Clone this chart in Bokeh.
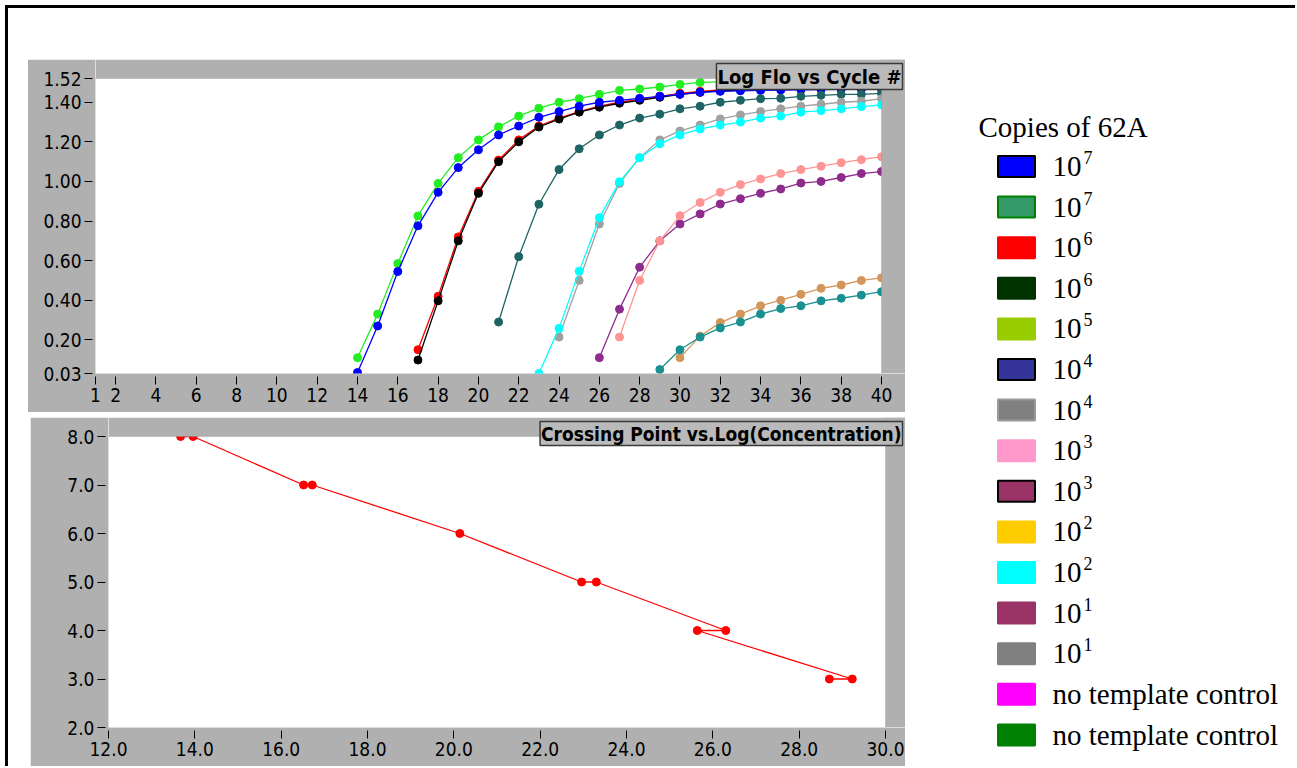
from bokeh.plotting import figure
from bokeh.models import FixedTicker, PrintfTickFormatter, Label, Range1d, BoxAnnotation
from bokeh.layouts import row, column
from bokeh.core.properties import value
from bokeh.embed import file_html
from bokeh.resources import INLINE

# ---------------- data: Log Flo vs Cycle # ----------------
green_start = 14
green_vals = [0.11, 0.33, 0.585, 0.826, 0.99, 1.12, 1.21, 1.276, 1.33, 1.37, 1.40, 1.418, 1.44, 1.46,
              1.467, 1.477, 1.49, 1.50, 1.503, 1.506, 1.508, 1.51, 1.512, 1.514, 1.515, 1.516, 1.517]
blue_start = 14
blue_vals = [0.035, 0.27, 0.545, 0.776, 0.945, 1.07, 1.16, 1.235, 1.28, 1.324, 1.353, 1.38, 1.40, 1.41,
             1.42, 1.43, 1.44, 1.45, 1.455, 1.458, 1.46, 1.462, 1.463, 1.464, 1.465, 1.466, 1.467]
red_start = 17
red_vals = [0.15, 0.42, 0.72, 0.95, 1.108, 1.21, 1.28, 1.32, 1.353, 1.38, 1.40, 1.415, 1.43, 1.445,
            1.455, 1.462, 1.465, 1.467, 1.468, 1.469, 1.47, 1.47, 1.471, 1.472]
black_start = 17
black_vals = [0.098, 0.397, 0.70, 0.94, 1.10, 1.20, 1.275, 1.315, 1.35, 1.375, 1.395, 1.41, 1.425, 1.44,
              1.45, 1.458, 1.462, 1.464, 1.465, 1.466, 1.467, 1.468, 1.469, 1.47]
darkteal_start = 21
darkteal_vals = [0.29, 0.62, 0.885, 1.06, 1.165, 1.235, 1.285, 1.32, 1.34, 1.367, 1.38, 1.40, 1.41,
                 1.418, 1.42, 1.43, 1.435, 1.44, 1.44, 1.445]
cyan_start = 23
cyan_vals = [0.03, 0.258, 0.547, 0.817, 0.998, 1.12, 1.19, 1.235, 1.265, 1.285, 1.30, 1.32, 1.33, 1.35,
             1.358, 1.367, 1.378, 1.387]
gray_start = 24
gray_vals = [0.214, 0.50, 0.785, 0.99, 1.12, 1.21, 1.255, 1.285, 1.316, 1.336, 1.353, 1.367, 1.38, 1.39,
             1.40, 1.405, 1.418]
salmon_start = 27
salmon_vals = [0.214, 0.50, 0.70, 0.827, 0.894, 0.945, 0.984, 1.013, 1.04, 1.06, 1.077, 1.095, 1.11, 1.125]
purple_start = 26
purple_vals = [0.11, 0.355, 0.567, 0.70, 0.785, 0.836, 0.886, 0.913, 0.94, 0.962, 0.992, 1.0, 1.02, 1.04, 1.05]
tan_start = 30
tan_vals = [0.11, 0.219, 0.287, 0.33, 0.372, 0.40, 0.43, 0.46, 0.477, 0.50, 0.513]
teal_start = 29
teal_vals = [0.05, 0.15, 0.214, 0.26, 0.29, 0.33, 0.358, 0.372, 0.397, 0.41, 0.426, 0.443]

top_x_ticks = [1, 2, 4, 6, 8, 10, 12, 14, 16, 18, 20, 22, 24, 26, 28, 30, 32, 34, 36, 38, 40]
top_y_ticks = [0.03, 0.20, 0.40, 0.60, 0.80, 1.00, 1.20, 1.40, 1.52]
top_title = "Log Flo vs Cycle #"

# ---------------- data: Crossing Point vs Log(Concentration) ----------------
crossing_point = [13.67, 13.96, 16.52, 16.72, 20.14, 22.96, 23.30, 26.30, 25.64, 29.23, 28.70]
log_conc = [8, 8, 7, 7, 6, 5, 5, 4, 4, 3, 3]
bot_x_ticks = [12, 14, 16, 18, 20, 22, 24, 26, 28, 30]
bot_y_ticks = [2, 3, 4, 5, 6, 7, 8]
bot_title = "Crossing Point vs.Log(Concentration)"

# ---------------- legend ----------------
legend_title = "Copies of 62A"
legend_base = ["10"] * 13 + ["no template control", "no template control"]
legend_exp = ["7", "7", "6", "6", "5", "4", "4", "3", "3", "2", "2", "1", "1", "", ""]

# ---------------- styles ----------------
legend_fill = ["#0000ff", "#339966", "#ff0000", "#003300", "#99cc00", "#333399", "#808080",
               "#ff99cc", "#993366", "#ffcc00", "#00ffff", "#993366", "#808080", "#ff00ff", "#008000"]
legend_line = ["#000000", "#008000", "#ff0000", "#003300", "#99cc00", "#000000", "#9a9a9a",
               "#ff99cc", "#000000", "#ffcc00", "#00ffff", "#993366", "#808080", "#ff00ff", "#008000"]

PANEL = "#b0b0b0"
TICK_FONT = "DejaVu Sans Condensed"
SERIF = "Liberation Serif"

series = [
    (red_start, red_vals, "#ff0000"),
    (black_start, black_vals, "#000000"),
    (green_start, green_vals, "#22ee22"),
    (blue_start, blue_vals, "#0000ff"),
    (darkteal_start, darkteal_vals, "#1f6464"),
    (gray_start, gray_vals, "#a0a0a0"),
    (cyan_start, cyan_vals, "#00ffff"),
    (purple_start, purple_vals, "#8e2c8e"),
    (salmon_start, salmon_vals, "#ff9494"),
    (tan_start, tan_vals, "#d4955a"),
    (teal_start, teal_vals, "#1a9090"),
]


def style_axes(p):
    for ax in p.axis:
        ax.axis_line_color = None
        ax.major_tick_line_color = "black"
        ax.major_tick_line_width = 1
        ax.minor_tick_line_color = None
        ax.major_label_text_font = TICK_FONT
        ax.major_label_text_font_size = "19px"
        ax.major_label_text_color = "black"
        ax.major_tick_out = 11
        ax.major_tick_in = -3
        ax.major_label_standoff = 3
    p.grid.visible = False


def panel_figure(width, height, xr, yr, bl, br, bt, bb, margin, styles=None):
    """Frame covers the right and top gray strips so the title box can overlap them."""
    fw = width - bl
    fh = height - bb
    data_w = fw - br
    data_h = fh - bt
    x_end = xr[1] + br * (xr[1] - xr[0]) / data_w
    y_end = yr[1] + bt * (yr[1] - yr[0]) / data_h
    p = figure(width=width, height=height, x_range=Range1d(xr[0], x_end), y_range=Range1d(yr[0], y_end),
               output_backend="svg", toolbar_location=None,
               min_border_left=bl, min_border_right=0, min_border_top=0, min_border_bottom=bb,
               border_fill_color=PANEL, background_fill_color="white",
               outline_line_color=None, margin=margin, styles=styles or {})
    return p


def add_strips(p, xr, yr, title, size):
    p.add_layout(BoxAnnotation(left=xr[1], fill_color=PANEL, fill_alpha=1, line_color=None))
    p.add_layout(BoxAnnotation(bottom=yr[1], fill_color=PANEL, fill_alpha=1, line_color=None))
    p.add_layout(BoxAnnotation(left=xr[0], right=xr[1], bottom=yr[0], top=yr[1], fill_color=None,
                               fill_alpha=0, line_color="#8a8a8a", line_width=1))
    p.add_layout(Label(x=p.x_range.end, y=p.y_range.end, x_units="data", y_units="data", text=title,
                       text_align="right", text_baseline="top", x_offset=-3, y_offset=-4,
                       text_font=TICK_FONT, text_font_style="bold", text_font_size=size,
                       text_color="black",
                       background_fill_color="#bababa", border_line_color="#3a3a3a",
                       border_line_width=1.5, padding=1))


# Both plots in the column share the same left border width (Bokeh aligns them),
# so the top panel is shifted left and its surplus gray edge is clipped away.
LEFT_BORDER = 78
TOP_EXTRA = 11

# ---------------- top chart ----------------
top_xr, top_yr = (1, 40), (0.03, 1.52)
top = panel_figure(877 + TOP_EXTRA, 353, top_xr, top_yr, bl=LEFT_BORDER, br=24, bt=19, bb=39,
                   margin=(51, 0, 0, 20 - TOP_EXTRA),
                   styles={"clip-path": "inset(0px 0px 0px %dpx)" % TOP_EXTRA})
for start, vals, col in series:
    xs = list(range(start, start + len(vals)))
    top.line(xs, vals, line_color=col, line_width=1.3)
    top.scatter(xs, vals, size=8, fill_color=col, line_color=col)
style_axes(top)
top.xaxis.ticker = FixedTicker(ticks=top_x_ticks)
top.yaxis.ticker = FixedTicker(ticks=top_y_ticks)
top.yaxis.formatter = PrintfTickFormatter(format="%.2f")
add_strips(top, top_xr, top_yr, top_title, "20px")

# ---------------- bottom chart ----------------
bot_xr, bot_yr = (12, 30), (2, 8)
bot = panel_figure(875, 349, bot_xr, bot_yr, bl=LEFT_BORDER, br=20, bt=19, bb=39, margin=(5, 0, 0, 22))
bot.line(crossing_point, log_conc, line_color="#ff0000", line_width=1.3)
bot.scatter(crossing_point, log_conc, size=8, fill_color="#ff0000", line_color="#ff0000")
style_axes(bot)
bot.xaxis.ticker = FixedTicker(ticks=bot_x_ticks)
bot.yaxis.ticker = FixedTicker(ticks=bot_y_ticks)
bot.xaxis.formatter = PrintfTickFormatter(format="%.1f")
bot.yaxis.formatter = PrintfTickFormatter(format="%.1f")
add_strips(bot, bot_xr, bot_yr, bot_title, "19px")

# ---------------- legend panel ----------------
LW, LH = 390, 755
leg = figure(width=LW, height=LH, x_range=Range1d(0, LW), y_range=Range1d(LH, 0),
             output_backend="svg", toolbar_location=None, x_axis_type=None, y_axis_type=None,
             min_border=0, outline_line_color=None, border_fill_color="white",
             background_fill_color="white")
leg.grid.visible = False
n = len(legend_base)
step = 40.6
base_y = [168 + i * step for i in range(n)]
leg.text(x=[73], y=[118], text=[legend_title], text_font=value(SERIF),
         text_font_size="29px", text_baseline="alphabetic", text_color="black")
leg.rect(x=[111] * n, y=[b - 10 for b in base_y], width=37, height=21,
         fill_color=legend_fill, line_color=legend_line, line_width=2)
leg.text(x=[147] * n, y=[b - 10 for b in base_y], text=legend_base, text_font=value(SERIF),
         text_font_size="29px", text_baseline="alphabetic", text_color="black")
leg.text(x=[178] * n, y=[b - 19 for b in base_y], text=legend_exp,
         text_font=value(SERIF), text_font_size="18px",
         text_baseline="alphabetic", text_color="black")

left = column(top, bot)
root = row(left, leg, margin=(5, 0, 0, 5),
           styles={"border-top": "3px solid black", "border-left": "3px solid black"})

open("out.html", "w").write(file_html(root, INLINE))
